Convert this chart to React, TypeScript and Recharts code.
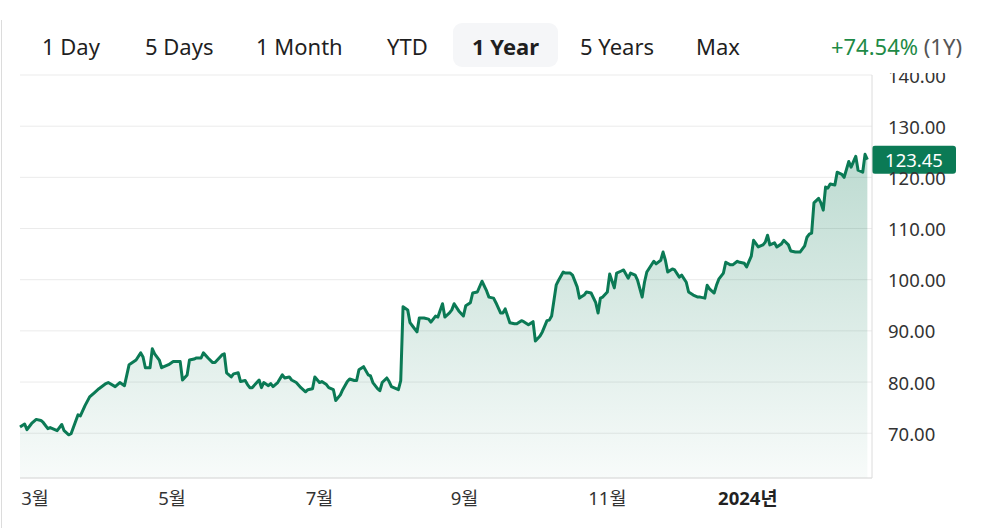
import React from 'react';
import {
  AreaChart, Area, XAxis, YAxis, CartesianGrid, ReferenceLine,
} from 'recharts';

// days since the first session shown (late Feb 2023)
const DAYS = [
  0, 2, 3, 5, 7, 9, 10, 12, 13, 16, 18, 19, 21, 22, 25, 26, 28, 30, 32, 34,
  37, 38, 41, 43, 45, 47, 50, 52, 53, 54, 56, 57, 58, 60, 61, 64, 66, 69, 70, 72,
  73, 75, 76, 78, 79, 81, 83, 84, 85, 87, 88, 89, 91, 92, 94, 95, 97, 98, 99, 100,
  102, 103, 104, 105, 107, 108, 109, 111, 113, 114, 116, 117, 119, 121, 123, 124, 126, 127, 129, 130,
  132, 133, 135, 136, 138, 139, 141, 142, 144, 145, 146, 148, 150, 151, 152, 154, 155, 156, 158, 159,
  160, 163, 164, 165, 167, 168, 169, 171, 172, 174, 176, 177, 179, 180, 182, 183, 185, 186, 187, 189,
  191, 192, 194, 195, 197, 199, 201, 202, 204, 205, 207, 208, 209, 211, 213, 214, 216, 217, 219, 221,
  222, 224, 225, 227, 228, 229, 231, 232, 234, 235, 237, 238, 240, 241, 243, 244, 246, 248, 249, 250,
  251, 253, 254, 256, 257, 259, 260, 262, 263, 265, 266, 268, 269, 270, 273, 274, 276, 277, 278, 279,
  281, 282, 284, 285, 287, 288, 290, 292, 293, 295, 296, 297, 299, 300, 301, 303, 304, 306, 307, 309,
  310, 312, 313, 315, 316, 318, 320, 321, 322, 323, 325, 326, 328, 329, 331, 332, 334, 336, 338, 339,
  340, 341, 342, 344, 345, 346, 347, 348, 349, 351, 352, 354, 355, 357, 358, 360, 361, 363, 364, 365,
];

const PRICES = [
  71.2, 71.8, 70.7, 71.9, 72.7, 72.5, 72.1, 70.9, 71.1, 70.5, 71.7, 70.5, 69.7, 69.9, 73.6, 73.4, 75.4, 77.1, 77.9, 78.7,
  79.7, 79.9, 79.1, 79.9, 79.3, 83.4, 84.3, 85.7, 84.9, 82.8, 82.8, 86.5, 85.5, 84.3, 82.8, 83.4, 84.0, 84.0, 80.4, 81.4,
  84.3, 84.5, 84.7, 84.7, 85.7, 84.7, 83.8, 83.8, 84.3, 85.3, 85.5, 81.8, 81.0, 81.6, 81.8, 80.1, 80.3, 79.5, 78.9, 78.9,
  79.9, 80.4, 78.9, 79.9, 79.3, 79.7, 79.1, 79.9, 81.4, 80.8, 81.0, 80.4, 79.9, 78.9, 78.1, 78.5, 78.7, 81.0, 79.9, 80.1,
  79.5, 78.9, 78.5, 76.4, 77.5, 78.5, 80.1, 80.6, 80.3, 80.3, 82.4, 83.0, 81.4, 81.2, 79.9, 78.7, 78.3, 79.9, 80.8, 80.1,
  79.1, 78.5, 80.3, 94.7, 94.1, 91.6, 91.0, 89.8, 92.5, 92.5, 92.3, 91.7, 92.9, 92.7, 95.3, 92.7, 93.5, 94.1, 95.3, 93.9,
  92.9, 94.9, 95.5, 97.4, 97.6, 99.7, 97.8, 96.6, 96.4, 95.5, 93.5, 93.5, 94.3, 91.6, 91.4, 91.4, 92.0, 91.8, 91.2, 91.8,
  88.0, 89.0, 89.8, 92.0, 92.1, 92.9, 99.0, 99.9, 101.5, 101.3, 101.3, 100.9, 98.6, 96.4, 97.0, 97.6, 97.4, 95.5, 93.5, 96.4,
  96.6, 97.6, 101.1, 98.4, 101.3, 101.7, 101.9, 100.3, 101.3, 100.9, 99.9, 96.6, 99.5, 101.5, 103.6, 103.1, 103.8, 105.4, 103.8, 101.5,
  102.1, 101.9, 100.5, 100.9, 99.5, 97.6, 97.0, 96.6, 96.6, 96.4, 98.9, 98.2, 97.4, 98.9, 100.1, 101.3, 103.4, 102.9, 102.9, 103.6,
  103.4, 103.2, 102.5, 104.6, 107.7, 106.4, 106.8, 107.3, 108.7, 106.8, 107.2, 106.4, 107.0, 107.7, 106.8, 105.6, 105.4, 105.4, 106.6, 108.3,
  108.9, 109.1, 115.0, 115.9, 115.0, 113.6, 118.1, 117.9, 118.7, 118.5, 121.0, 120.6, 120.0, 123.1, 122.0, 124.1, 121.4, 121.0, 124.5, 123.45,
];

const MONTH_TICK_DAYS = [6.5, 65.5, 129, 191.5, 253, 313.5];
const MONTH_TICK_LABELS = ['3월', '5월', '7월', '9월', '11월', '2024년'];
const PRICE_TICKS = [70, 80, 90, 100, 110, 120, 130, 140];

const RANGES = ['1 Day', '5 Days', '1 Month', 'YTD', '1 Year', '5 Years', 'Max'];
const RANGE_LEFT = [42, 145, 256, 387, 472, 580, 696];
const ACTIVE_RANGE = '1 Year';
const CHANGE_TEXT = '+74.54%';
const CHANGE_PERIOD = '(1Y)';

const GREEN = '#0b7a55';
const FONT = '"Noto Sans", "Noto Sans CJK KR", sans-serif';

const data = DAYS.map((d, i) => ({ day: d, price: PRICES[i] }));
const lastPrice = PRICES[PRICES.length - 1];

const MonthTick = ({ x, y, payload }: any) => {
  const idx = MONTH_TICK_DAYS.indexOf(payload.value);
  const label = MONTH_TICK_LABELS[idx] ?? '';
  const isYear = label.endsWith('년');
  return (
    <text x={x} y={y} textAnchor="middle" dominantBaseline="central" fontSize={18.5}
      fontWeight={isYear ? 700 : 400} fill={isYear ? '#222' : '#333'}>
      {label}
    </text>
  );
};

const PriceTick = ({ x, y, payload }: any) => (
  <text x={x} y={y} textAnchor="start" dominantBaseline="central" fontSize={18.5} fill="#333">
    {Number(payload.value).toFixed(2)}
  </text>
);

const PriceTag = (props: any) => {
  const vb = props.viewBox || {};
  const left = vb.x + vb.width;
  const cy = vb.y;
  return (
    <g>
      <rect x={left} y={cy - 14} width={84} height={28} rx={3} fill={GREEN} />
      <text x={left + 42} y={cy} textAnchor="middle" dominantBaseline="central" fontSize={18.5} fill="#fff">
        {lastPrice.toFixed(2)}
      </text>
    </g>
  );
};

export default function App() {
  return (
    <div style={{ position: 'fixed', left: 0, top: 0, width: 987, height: 528, background: '#fff', fontFamily: FONT, overflow: 'hidden' }}>
      <div style={{ position: 'absolute', left: 1, top: 20, width: 1, height: 508, background: '#dcdcdc' }} />

      <div style={{ position: 'absolute', left: 0, top: 0, zIndex: 1 }}>
        <AreaChart width={987} height={528} data={data} margin={{ top: 75, right: 0, bottom: 0, left: 20 }}>
          <defs>
            <linearGradient id="priceFill" x1="0" y1="0" x2="0" y2="1">
              <stop offset="0%" stopColor={GREEN} stopOpacity={0.45} />
              <stop offset="100%" stopColor={GREEN} stopOpacity={0.05} />
            </linearGradient>
          </defs>
          <CartesianGrid vertical={false} stroke="#ebebeb" />
          <XAxis
            dataKey="day" type="number" domain={[0, 367]} ticks={MONTH_TICK_DAYS} interval={0}
            height={50} tickSize={0} tickMargin={19} tick={<MonthTick />}
            axisLine={{ stroke: '#dcdcdc' }} tickLine={false}
          />
          <YAxis
            orientation="right" type="number" domain={[61.25, 140]} ticks={PRICE_TICKS} interval={0}
            width={115} tickSize={0} tickMargin={16} tick={<PriceTick />}
            axisLine={{ stroke: '#dcdcdc' }} tickLine={false} allowDataOverflow
          />
          <Area
            type="linear" dataKey="price" stroke={GREEN} strokeWidth={3} strokeLinejoin="round"
            fill="url(#priceFill)" isAnimationActive={false} dot={false} activeDot={false}
          />
          <ReferenceLine y={lastPrice} stroke="none" label={<PriceTag />} />
        </AreaChart>
      </div>

      <div style={{ position: 'absolute', left: 3, top: 0, width: 984, height: 73, background: '#fff', zIndex: 2 }}>
        <div style={{ position: 'absolute', left: 450, top: 23, width: 105, height: 44, borderRadius: 9, background: '#f5f6f8' }} />
        {RANGES.map((r, i) => (
          <span key={r} style={{
            position: 'absolute', left: RANGE_LEFT[i] - 3, top: 24, height: 44, lineHeight: '44px',
            fontSize: 22, color: '#1f1f1f', fontWeight: r === ACTIVE_RANGE ? 700 : 400, whiteSpace: 'nowrap',
          }}>{r}</span>
        ))}
        <span style={{
          position: 'absolute', right: 25, top: 24, height: 44, lineHeight: '44px', fontSize: 22, whiteSpace: 'nowrap',
        }}>
          <span style={{ color: '#1e8a46' }}>{CHANGE_TEXT}</span>
          <span style={{ color: '#555' }}> {CHANGE_PERIOD}</span>
        </span>
      </div>
    </div>
  );
}
